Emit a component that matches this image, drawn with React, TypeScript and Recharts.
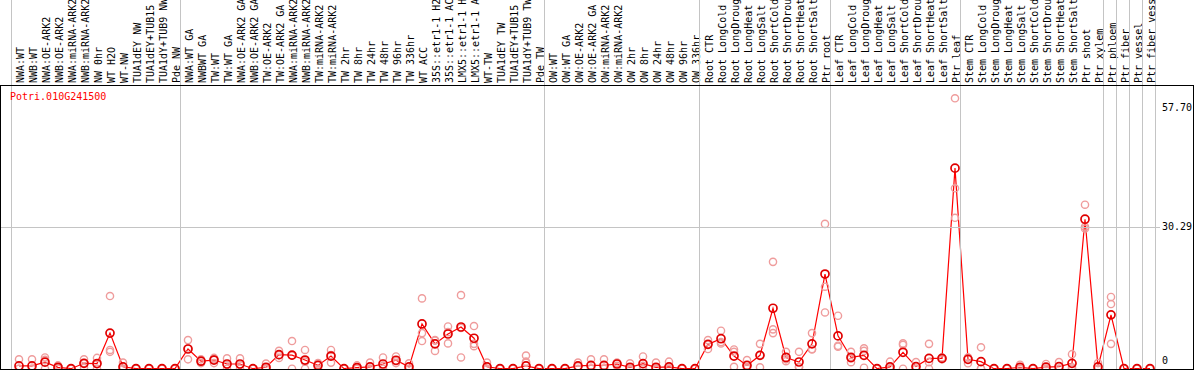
import React from 'react';
import { ComposedChart, Line, XAxis, YAxis } from 'recharts';

const title = 'Potri.010G241500';

const categories = [
  'NWA:WT', 'NWB:WT', 'NWA:OE-ARK2', 'NWB:OE-ARK2', 'NWA:miRNA-ARK2', 'NWB:miRNA-ARK2', 'NW 0hr', 'WT H2O', 'WT-NW',
  'TUA1dEY NW', 'TUA1dEY+TUB15', 'TUA1dY+TUB9 NW', 'Pde NW',
  'NWA:WT GA', 'NWBWT GA', 'TW:WT', 'TW:WT GA', 'NWA:OE-ARK2 GA', 'NWB:OE-ARK2 GA', 'TW:OE-ARK2', 'TW:OE-ARK2 GA',
  'NWA:miRNA-ARK2', 'NWB:miRNA-ARK2', 'TW:miRNA-ARK2', 'TW:miRNA-ARK2', 'TW 2hr', 'TW 8hr', 'TW 24hr', 'TW 48hr',
  'TW 96hr', 'TW 336hr', 'WT ACC', '35S::etr1-1 H2', '35S::etr1-1 AC', 'LMX5::etr1-1 H', 'LMX5::etr1-1 A', 'WT-TW',
  'TUA1dEY TW', 'TUA1dEY+TUB15', 'TUA1dY+TUB9 TW', 'Pde TW',
  'OW:WT', 'OW:WT GA', 'OW:OE-ARK2', 'OW:OE-ARK2 GA', 'OW:miRNA-ARK2', 'OW:miRNA-ARK2', 'OW 2hr', 'OW 8hr', 'OW 24hr',
  'OW 48hr', 'OW 96hr', 'OW 336hr',
  'Root CTR', 'Root LongCold', 'Root LongDroug', 'Root LongHeat', 'Root LongSalt', 'Root ShortCold', 'Root ShortDrou',
  'Root ShortHeat', 'Root ShortSalt', 'Ptr root',
  'Leaf CTR', 'Leaf LongCold', 'Leaf LongDroug', 'Leaf LongHeat', 'Leaf LongSalt', 'Leaf ShortCold', 'Leaf ShortDrou',
  'Leaf ShortHeat', 'Leaf ShortSalt', 'Ptr leaf',
  'Stem CTR', 'Stem LongCold', 'Stem LongDroug', 'Stem LongHeat', 'Stem LongSalt', 'Stem ShortCold', 'Stem ShortDrou',
  'Stem ShortHeat', 'Stem ShortSalt', 'Ptr shoot', 'Ptr xylem',
  'Ptr phloem', 'Ptr fiber', 'Ptr vessel', 'Ptr fiber vess',
];

const meanValues = [
  0.6, 0.6, 1.4, 0.3, 0, 1.15, 1.1, 7.6, 0.4, 0, 0, 0, 0,
  4.2, 1.6, 1.85, 1.0, 1.0, 0, 0.3, 3.0, 2.9, 1.85, 0.7, 2.7, 0, 0.25, 0.4, 1.0, 1.8, 0.4, 9.55, 5.3, 7.4, 8.9, 6.5,
  0.4, 0, 0, 0.6, 0,
  0, 0, 0.6, 0.7, 0.7, 1.0, 0.3, 1.07, 0.3, 0.4, 0, 0,
  5.2, 6.4, 2.7, 0.7, 2.85, 12.9, 2.4, 1.43, 5.3, 20.2,
  7.0, 2.4, 2.85, 0, 0.4, 3.5, 0.45, 2.2, 2.2, 42.8,
  2.0, 1.5, 0, 0, 0.3, 0, 0.33, 0.45, 1.15, 31.9, 0.4,
  11.5, 0, 0, 0,
];

const rep1 = [
  2.0, 2.0, 2.4, 0.7, 0, 2.0, 2.3, 15.5, 1.3, 0, 0, 0, 0,
  6.1, 2.0, 2.3, 2.2, 2.2, 0, 1.1, 3.8, 5.9, 4.0, 1.2, 4.0, 0, 0.7, 1.3, 2.4, 2.6, 1.15, 15.0, 6.1, 9.0, 15.7, 9.1,
  1.3, 0, 0, 2.8, 0,
  0, 0, 1.3, 2.0, 2.0, 1.3, 1.15, 2.6, 1.3, 1.5, 0, 0,
  6.1, 8.1, 4.1, 1.85, 5.3, 22.8, 3.6, 3.6, 7.6, 30.9,
  11.3, 3.6, 4.35, 0, 1.5, 5.4, 1.4, 5.3, 2.4, 57.7,
  2.4, 4.56, 0, 0, 0.85, 0, 1.0, 1.4, 3.1, 35.0, 1.2,
  15.3, 0, 0, 0,
];

const rep2 = [
  0, 0, 1.9, 0.2, 0, 1.2, 1.0, 4.0, 0, 0, 0, 0, 0,
  4.3, 1.6, 2.0, 0.8, 0.8, 0, 0, 2.9, 2.8, 1.5, 0.9, 2.9, 0, 0, 0, 0.6, 1.6, 0, 7.6, 6.0, 7.8, 8.7, 5.3,
  0, 0, 0, 1.5, 0,
  0, 0, 0.5, 0, 0, 1.1, 0, 0.6, 0, 0, 0, 0,
  5.2, 5.7, 3.6, 0.3, 2.9, 8.4, 2.0, 0.4, 4.1, 17.5,
  4.9, 2.2, 3.8, 0, 0, 5.1, 0, 1.4, 2.2, 38.5,
  2.4, 0, 0, 0, 0, 0, 0, 0, 0.3, 30.3, 0,
  13.8, 0, 0, 0,
];

const rep3 = [
  0, 0, 0, 0, 0, 0.25, 0, 3.6, 0, 0, 0, 0, 0,
  2.0, 1.2, 1.2, 0, 0, 0, 0, 2.3, 0, 0, 0, 1.3, 0, 0, 0, 0, 1.2, 0, 5.9, 3.8, 5.4, 2.4, 4.8,
  0, 0, 0, 1.3, 0,
  0, 0, 0, 0, 0, 0.6, 0, 0, 0, 0, 0, 0,
  4.2, 5.4, 0.4, 0, 0.3, 7.6, 1.6, 0.3, 4.2, 12.0,
  4.7, 1.4, 0.2, 0, 0, 0, 0, 0, 2.0, 32.2,
  1.15, 0, 0, 0, 0, 0, 0, 0, 0, 29.9, 0,
  5.3, 0, 0, 0,
];

const groupStarts = [0, 13, 41, 53, 63, 73, 84, 85, 86, 87];
const yTicks = [0, 30.29, 57.7];
const yTickLabels = ['0', '30.29', '57.70'];

const data = categories.map((name, i) => ({
  idx: i,
  name,
  mean: meanValues[i],
  r1: rep1[i],
  r2: rep2[i],
  r3: rep3[i],
}));

const xTicks = categories.map((_, i) => i);

const MONO = '"DejaVu Sans Mono", "Liberation Mono", monospace';
const GRID = '#c4c4c4';

const XTick = (props: any) => {
  const { x, payload } = props;
  const i = payload.value as number;
  const label = categories[i];
  const sep = Math.floor(x - 8) + 0.5;
  return (
    <g>
      {groupStarts.includes(i) && (
        <line x1={sep} x2={sep} y1={0} y2={369} stroke={GRID} strokeWidth={1} />
      )}
      {i === categories.length - 1 && (
        <line x1={sep + 13} x2={sep + 13} y1={0} y2={369} stroke={GRID} strokeWidth={1} />
      )}
      <text
        transform={`translate(${x + 4.5},83) rotate(-90)`}
        fontFamily={MONO}
        fontSize={10}
        fill="#000"
        textAnchor="start"
      >
        {label}
      </text>
    </g>
  );
};

const YTick = (props: any) => {
  const { y, payload } = props;
  const v = payload.value as number;
  const k = yTicks.indexOf(v);
  const dy = k === 0 ? -4.5 : k === 1 ? 3.5 : 13;
  const gy = Math.round(y) + 0.5;
  return (
    <g>
      {k === 1 && <line x1={0} x2={1160} y1={gy} y2={gy} stroke={GRID} strokeWidth={1} />}
      <text x={1162} y={y + dy} fontFamily={MONO} fontSize={10} fill="#000" textAnchor="start">
        {yTickLabels[k]}
      </text>
    </g>
  );
};

const repDot = { r: 3.6, stroke: '#ef9c9c', strokeWidth: 1.4, fill: 'none' };
const meanDot = { r: 4, stroke: '#e00000', strokeWidth: 1.7, fill: 'none' };

export default function App() {
  return (
    <div style={{ position: 'absolute', left: 0, top: 0, width: 1194, height: 370, background: '#fff' }}>
      <ComposedChart
        width={1194}
        height={370}
        data={data}
        margin={{ top: 0, right: 0, bottom: 1, left: 12.5 }}
      >
        <XAxis
          dataKey="idx"
          type="number"
          orientation="top"
          domain={[-0.5, 87.5]}
          ticks={xTicks}
          interval={0}
          height={85}
          axisLine={false}
          tickLine={false}
          tick={<XTick />}
        />
        <YAxis
          type="number"
          orientation="right"
          domain={[-0.064, 60.54]}
          ticks={yTicks}
          interval={0}
          width={37.5}
          axisLine={false}
          tickLine={false}
          tick={<YTick />}
        />
        <Line dataKey="r1" stroke="none" isAnimationActive={false} dot={repDot} activeDot={false} />
        <Line dataKey="r2" stroke="none" isAnimationActive={false} dot={repDot} activeDot={false} />
        <Line dataKey="r3" stroke="none" isAnimationActive={false} dot={repDot} activeDot={false} />
        <Line
          dataKey="mean"
          type="linear"
          stroke="#ff0000"
          strokeWidth={1.2}
          isAnimationActive={false}
          dot={meanDot}
          activeDot={false}
        />
      </ComposedChart>
      <div
        style={{
          position: 'absolute',
          left: 0,
          top: 85,
          width: 1194,
          height: 285,
          boxSizing: 'border-box',
          border: '1px solid #000',
          pointerEvents: 'none',
        }}
      />
      <div
        style={{
          position: 'absolute',
          left: 10,
          top: 91,
          fontFamily: MONO,
          fontSize: 10,
          lineHeight: '12px',
          color: '#ff0000',
          whiteSpace: 'nowrap',
        }}
      >
        {title}
      </div>
    </div>
  );
}
